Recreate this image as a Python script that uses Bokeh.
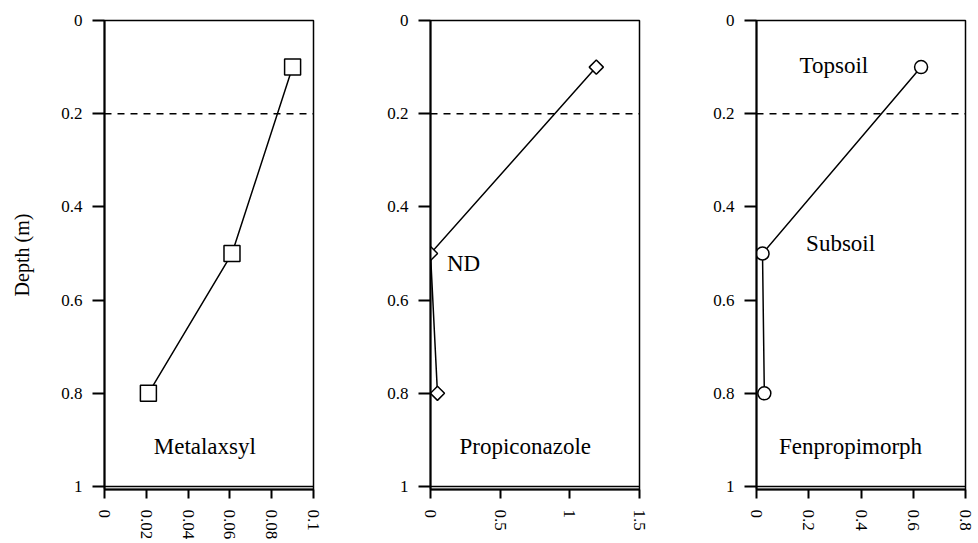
from bokeh.plotting import figure
from bokeh.layouts import row
from bokeh.models import Range1d, FixedTicker, Span
from bokeh.core.properties import value
from bokeh.embed import file_html
from bokeh.resources import INLINE

# ---- data ----
depth = [0.1, 0.5, 0.8]
metalaxyl = [0.09, 0.061, 0.021]
propiconazole = [1.19, 0.0, 0.05]
fenpropimorph = [0.63, 0.023, 0.03]

y_ticks = [0, 0.2, 0.4, 0.6, 0.8, 1]
y_tick_labels = ["0", "0.2", "0.4", "0.6", "0.8", "1"]

x1_ticks = [0, 0.02, 0.04, 0.06, 0.08, 0.1]
x1_labels = ["0", "0.02", "0.04", "0.06", "0.08", "0.1"]
x2_ticks = [0, 0.5, 1, 1.5]
x2_labels = ["0", "0.5", "1", "1.5"]
x3_ticks = [0, 0.2, 0.4, 0.6, 0.8]
x3_labels = ["0", "0.2", "0.4", "0.6", "0.8"]

topsoil_boundary = 0.2
profile_bottom = 1.0

names = ["Metalaxsyl", "Propiconazole", "Fenpropimorph"]
name_x = [0.048, 0.68, 0.36]
name_y = 0.915
extra2_text = ["ND"]
extra2_x = [0.237]
extra2_y = [0.522]
extra3_text = ["Topsoil", "Subsoil"]
extra3_x = [0.296, 0.322]
extra3_y = [0.097, 0.478]

FONT = "Liberation Serif"


def make_panel(xs, x_ticks, x_labels, marker, msize, angle, left_label,
               width, left_border, right_border):
    p = figure(frame_width=209, frame_height=469, width=width, height=543,
               output_backend="svg", toolbar_location=None,
               x_range=Range1d(x_ticks[0], x_ticks[-1]),
               y_range=Range1d(1.0064, 0),
               min_border_left=left_border, min_border_right=right_border,
               min_border_top=20, min_border_bottom=54)
    p.xgrid.visible = False
    p.ygrid.visible = False
    p.outline_line_color = "black"
    p.outline_line_width = 1.5
    p.outline_line_alpha = 1
    p.background_fill_color = "white"
    p.border_fill_color = "white"

    ya = p.yaxis[0]
    ya.ticker = FixedTicker(ticks=y_ticks)
    ya.major_label_overrides = {t: l for t, l in zip(y_ticks, y_tick_labels)}
    ya.axis_line_width = 2
    ya.axis_line_color = "black"
    ya.major_tick_out = 12
    ya.major_tick_in = 0
    ya.major_tick_line_width = 2
    ya.minor_tick_line_color = None
    ya.major_label_standoff = 10
    ya.major_label_text_font = FONT
    ya.major_label_text_font_size = "17px"
    ya.major_label_text_color = "black"
    if left_label:
        ya.axis_label = "Depth (m)"
        ya.axis_label_text_font = FONT
        ya.axis_label_text_font_size = "20px"
        ya.axis_label_text_font_style = "normal"
        ya.axis_label_text_color = "black"
        ya.axis_label_standoff = 25

    xa = p.xaxis[0]
    xa.ticker = FixedTicker(ticks=x_ticks)
    xa.major_label_overrides = {t: l for t, l in zip(x_ticks, x_labels)}
    xa.axis_line_width = 2
    xa.axis_line_color = "black"
    xa.major_tick_out = 9
    xa.major_tick_in = 0
    xa.major_tick_line_width = 2
    xa.minor_tick_line_color = None
    xa.major_label_orientation = "vertical"
    xa.major_label_standoff = 11
    xa.major_label_text_font = FONT
    xa.major_label_text_font_size = "17px"
    xa.major_label_text_color = "black"

    p.add_layout(Span(location=topsoil_boundary, dimension="width",
                      line_color="black", line_width=1.5, line_dash="7 6"))
    p.add_layout(Span(location=profile_bottom, dimension="width",
                      line_color="black", line_width=1.5))

    p.line(xs, depth, line_color="black", line_width=1.5)
    p.scatter(xs, depth, marker=marker, size=msize, angle=angle,
              fill_color="white", line_color="black", line_width=1.5)
    return p


p1 = make_panel(metalaxyl, x1_ticks, x1_labels, "square", 16, 0, True, 334, 104, 21)
p2 = make_panel(propiconazole, x2_ticks, x2_labels, "square", 10, 0.785398, False, 326, 96, 21)
p3 = make_panel(fenpropimorph, x3_ticks, x3_labels, "circle", 13, 0, False, 318, 96, 13)

for p, nx, nm in zip([p1, p2, p3], name_x, names):
    p.text(x=[nx], y=[name_y], text=[nm], text_font=value(FONT),
           text_font_size="23px", text_align="center", text_baseline="middle",
           text_color="black")

p2.text(x=extra2_x, y=extra2_y, text=extra2_text, text_font=value(FONT),
        text_font_size="23px", text_align="center", text_baseline="middle",
        text_color="black")
p3.text(x=extra3_x, y=extra3_y, text=extra3_text, text_font=value(FONT),
        text_font_size="23px", text_align="center", text_baseline="middle",
        text_color="black")

layout = row(p1, p2, p3)
open("out.html", "w").write(file_html(layout, INLINE))
